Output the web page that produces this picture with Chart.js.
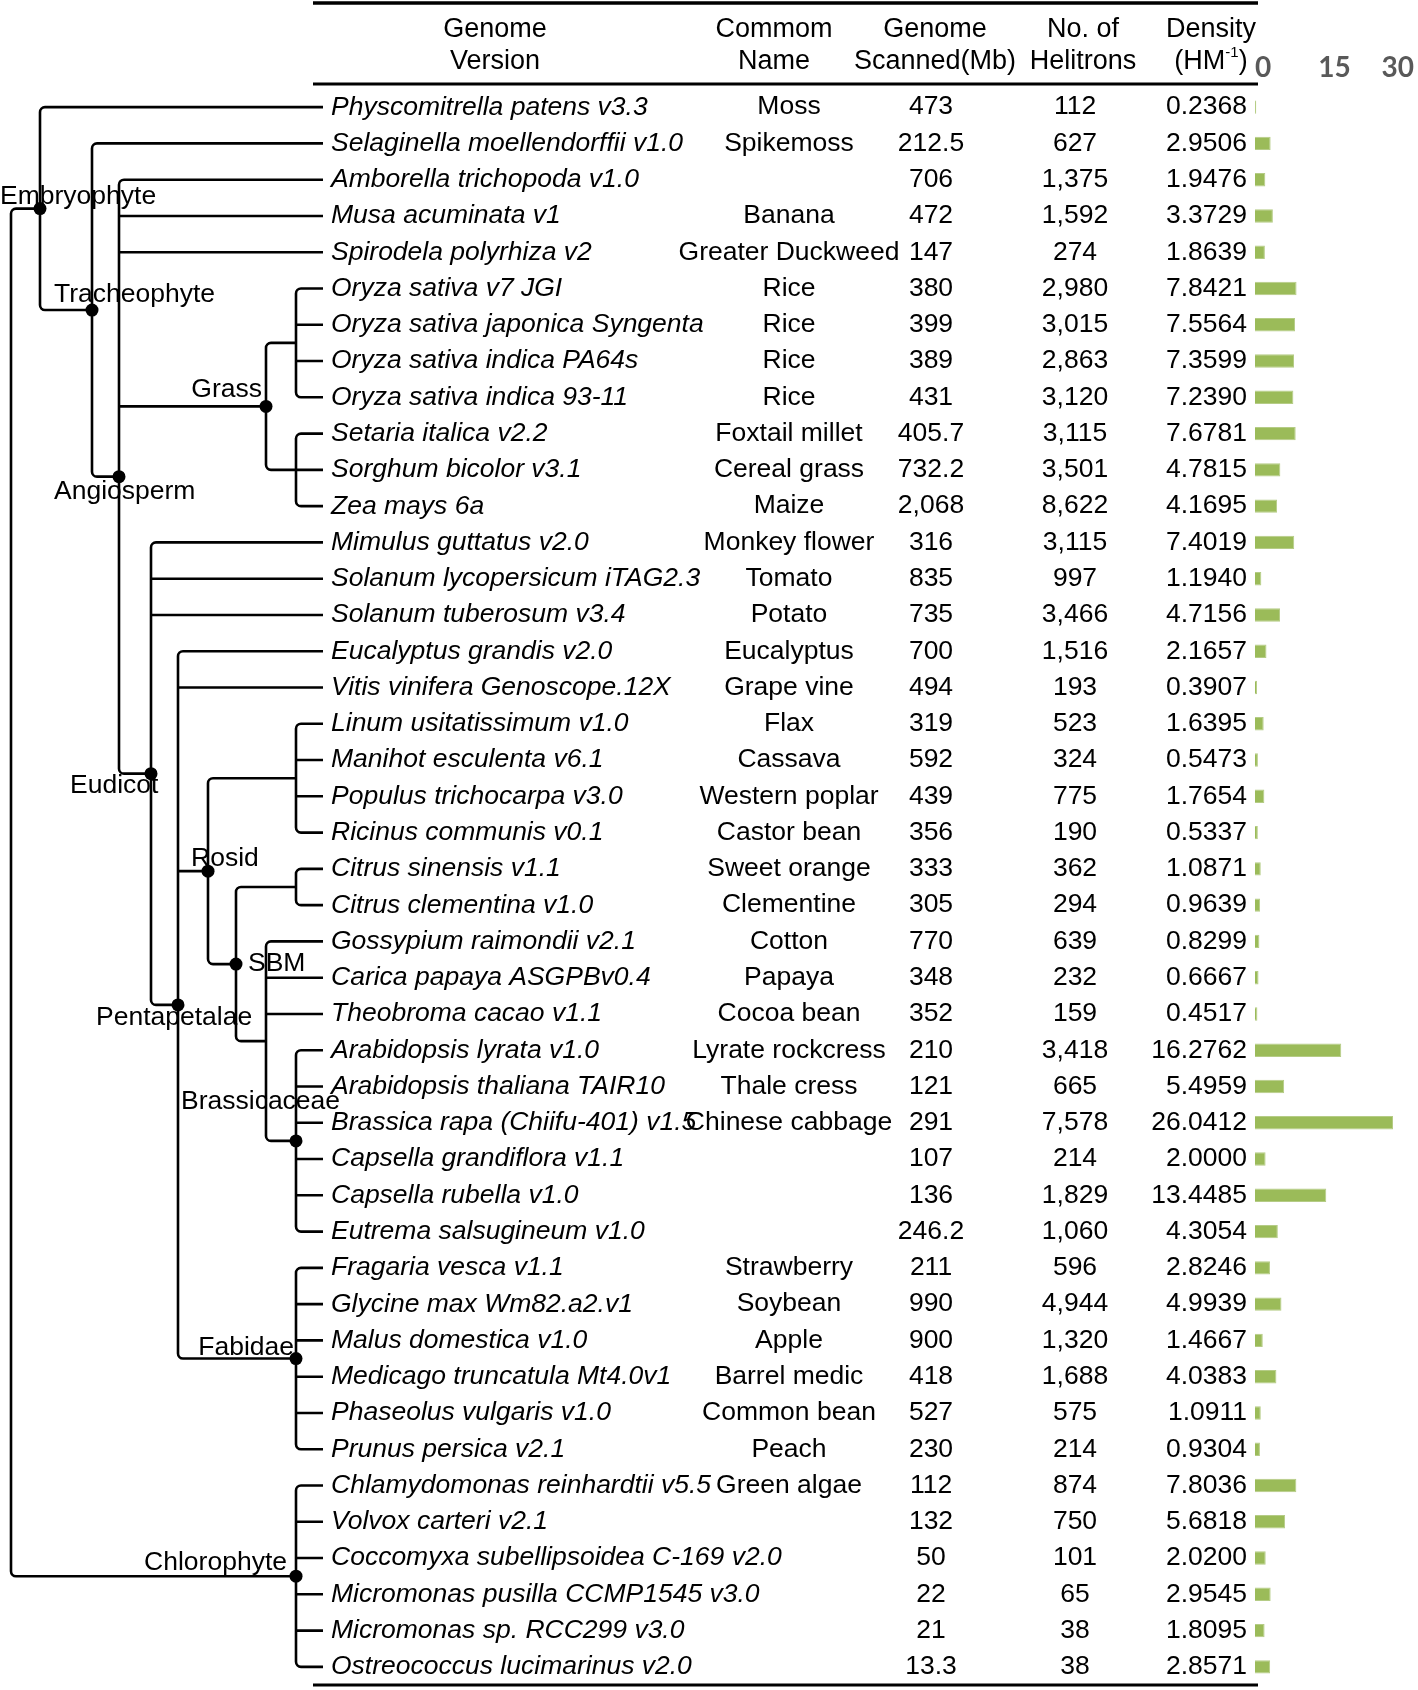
<!DOCTYPE html>
<html>
<head>
<meta charset="utf-8">
<script src="https://cdn.jsdelivr.net/npm/chart.js@4.4.1/dist/chart.umd.min.js"></script>
<style>
  html, body { margin: 0; padding: 0; background: #fff; }
  #wrap { width: 1418px; height: 1690px; }
</style>
</head>
<body>
<div id="wrap"><canvas id="helitronChart" width="1418" height="1690"></canvas></div>
<script>
// ===== Helitron density per genome =====

var genomes = [
    'Physcomitrella patens v3.3', 'Selaginella moellendorffii v1.0', 'Amborella trichopoda v1.0',
    'Musa acuminata v1', 'Spirodela polyrhiza v2', 'Oryza sativa v7 JGI',
    'Oryza sativa japonica Syngenta', 'Oryza sativa indica PA64s', 'Oryza sativa indica 93-11',
    'Setaria italica v2.2', 'Sorghum bicolor v3.1', 'Zea mays 6a',
    'Mimulus guttatus v2.0', 'Solanum lycopersicum iTAG2.3', 'Solanum tuberosum v3.4',
    'Eucalyptus grandis v2.0', 'Vitis vinifera Genoscope.12X', 'Linum usitatissimum v1.0',
    'Manihot esculenta v6.1', 'Populus trichocarpa v3.0', 'Ricinus communis v0.1',
    'Citrus sinensis v1.1', 'Citrus clementina v1.0', 'Gossypium raimondii v2.1',
    'Carica papaya ASGPBv0.4', 'Theobroma cacao v1.1', 'Arabidopsis lyrata v1.0',
    'Arabidopsis thaliana TAIR10', 'Brassica rapa (Chiifu-401) v1.5', 'Capsella grandiflora v1.1',
    'Capsella rubella v1.0', 'Eutrema salsugineum v1.0', 'Fragaria vesca v1.1',
    'Glycine max Wm82.a2.v1', 'Malus domestica v1.0', 'Medicago truncatula Mt4.0v1',
    'Phaseolus vulgaris v1.0', 'Prunus persica v2.1', 'Chlamydomonas reinhardtii v5.5',
    'Volvox carteri v2.1', 'Coccomyxa subellipsoidea C-169 v2.0', 'Micromonas pusilla CCMP1545 v3.0',
    'Micromonas sp. RCC299 v3.0', 'Ostreococcus lucimarinus v2.0'
];

var commonNames = [
    'Moss', 'Spikemoss', '', 'Banana', 'Greater Duckweed', 'Rice',
    'Rice', 'Rice', 'Rice', 'Foxtail millet', 'Cereal grass', 'Maize',
    'Monkey flower', 'Tomato', 'Potato', 'Eucalyptus', 'Grape vine', 'Flax',
    'Cassava', 'Western poplar', 'Castor bean', 'Sweet orange', 'Clementine', 'Cotton',
    'Papaya', 'Cocoa bean', 'Lyrate rockcress', 'Thale cress', 'Chinese cabbage', '',
    '', '', 'Strawberry', 'Soybean', 'Apple', 'Barrel medic',
    'Common bean', 'Peach', 'Green algae', '', '', '',
    '', ''
];

var scannedMb = [
    '473', '212.5', '706', '472', '147', '380', '399', '389', '431', '405.7', '732.2', '2,068',
    '316', '835', '735', '700', '494', '319', '592', '439', '356', '333', '305', '770',
    '348', '352', '210', '121', '291', '107', '136', '246.2', '211', '990', '900', '418',
    '527', '230', '112', '132', '50', '22', '21', '13.3'
];

var helitronCounts = [
    '112', '627', '1,375', '1,592', '274', '2,980', '3,015', '2,863', '3,120', '3,115', '3,501', '8,622',
    '3,115', '997', '3,466', '1,516', '193', '523', '324', '775', '190', '362', '294', '639',
    '232', '159', '3,418', '665', '7,578', '214', '1,829', '1,060', '596', '4,944', '1,320', '1,688',
    '575', '214', '874', '750', '101', '65', '38', '38'
];

var densities = [
    0.2368, 2.9506, 1.9476, 3.3729, 1.8639, 7.8421, 7.5564, 7.3599, 7.2390, 7.6781, 4.7815, 4.1695,
    7.4019, 1.1940, 4.7156, 2.1657, 0.3907, 1.6395, 0.5473, 1.7654, 0.5337, 1.0871, 0.9639, 0.8299,
    0.6667, 0.4517, 16.2762, 5.4959, 26.0412, 2.0000, 13.4485, 4.3054, 2.8246, 4.9939, 1.4667, 4.0383,
    1.0911, 0.9304, 7.8036, 5.6818, 2.0200, 2.9545, 1.8095, 2.8571
];

var densityTicks = [0, 15, 30];

var headerLines = [
    ['Genome', 'Version'],
    ['Commom', 'Name'],
    ['Genome', 'Scanned(Mb)'],
    ['No. of', 'Helitrons'],
    ['Density', '(HM-1)']
];

// Phylogeny: numbers are row indices of the genomes above
var tree = { x: 11, children: [
    { name: 'Embryophyte', x: 40, dot: true, children: [
        0,
        { name: 'Tracheophyte', x: 92, dot: true, children: [
            1,
            { name: 'Angiosperm', x: 119, dot: true, children: [
                2, 3, 4,
                { name: 'Grass', x: 266, dot: true, children: [
                    { x: 296, children: [5, 6, 7, 8] },
                    { x: 296, children: [9, 10, 11] }
                ] },
                { name: 'Eudicot', x: 151, dot: true, children: [
                    12, 13, 14,
                    { name: 'Pentapetalae', x: 178, dot: true, children: [
                        15, 16,
                        { name: 'Rosid', x: 208, dot: true, children: [
                            { x: 296, children: [17, 18, 19, 20] },
                            { name: 'SBM', x: 236, dot: true, children: [
                                { x: 296, children: [21, 22] },
                                { x: 266, children: [23, 24, 25,
                                    { name: 'Brassicaceae', x: 296, dot: true, children: [26, 27, 28, 29, 30, 31] }
                                ] }
                            ] }
                        ] },
                        { name: 'Fabidae', x: 296, dot: true, children: [32, 33, 34, 35, 36, 37] }
                    ] }
                ] }
            ] }
        ] }
    ] },
    { name: 'Chlorophyte', x: 296, dot: true, children: [38, 39, 40, 41, 42, 43] }
] };

// where each clade name sits, relative to its node
var cladeLabels = {
    'Embryophyte':  { x: 0,   dy: -12, align: 'left' },
    'Tracheophyte': { x: 54,  dy: -15, align: 'left' },
    'Grass':        { x: 262, dy: -17, align: 'right' },
    'Angiosperm':   { x: 54,  dy: 15,  align: 'left' },
    'Eudicot':      { x: 70,  dy: 12,  align: 'left' },
    'Rosid':        { x: 191, dy: -12, align: 'left' },
    'SBM':          { x: 248, dy: 0,   align: 'left' },
    'Pentapetalae': { x: 96,  dy: 13,  align: 'left' },
    'Brassicaceae': { x: 181, dy: -39, align: 'left' },
    'Fabidae':      { x: 294, dy: -11, align: 'right' },
    'Chlorophyte':  { x: 287, dy: -13, align: 'right' }
};

var FONT = "'Liberation Sans', Arial, Helvetica, sans-serif";
var BODY = '26.5px ' + FONT;
var LEAF_X = 323;

(function() {
    'use strict';

    function layoutRows(n) {
        if (typeof n === 'number') return n;
        var rows = n.children.map(layoutRows);
        n._row = (rows[0] + rows[rows.length - 1]) / 2;
        return n._row;
    }

    function rowOf(n) { return typeof n === 'number' ? n : n._row; }
    function xOf(n) { return typeof n === 'number' ? LEAF_X : n.x; }

    function drawBranches(ctx, n, rowY) {
        var kids = n.children;
        var first = kids[0], last = kids[kids.length - 1];
        var y1 = rowY(rowOf(first)), y2 = rowY(rowOf(last));
        ctx.beginPath();
        ctx.moveTo(xOf(first), y1);
        ctx.arcTo(n.x, y1, n.x, y2, 5);
        ctx.arcTo(n.x, y2, xOf(last), y2, 5);
        ctx.lineTo(xOf(last), y2);
        for (var i = 1; i < kids.length - 1; i++) {
            var y = rowY(rowOf(kids[i]));
            ctx.moveTo(n.x, y);
            ctx.lineTo(xOf(kids[i]), y);
        }
        ctx.stroke();
        kids.forEach(function(k) {
            if (typeof k !== 'number') drawBranches(ctx, k, rowY);
        });
    }

    function drawDots(ctx, n, rowY) {
        if (typeof n === 'number') return;
        if (n.dot) {
            ctx.beginPath();
            ctx.arc(n.x, rowY(n._row), 6.5, 0, Math.PI * 2);
            ctx.fill();
        }
        if (n.name && cladeLabels[n.name]) {
            var lb = cladeLabels[n.name];
            ctx.textAlign = lb.align;
            ctx.fillText(n.name, lb.x, rowY(n._row) + lb.dy);
        }
        n.children.forEach(function(k) { drawDots(ctx, k, rowY); });
    }

    var tablePlugin = {
        id: 'treeTable',
        afterDraw: function(chart) {
            var ctx = chart.ctx;
            var yScale = chart.scales.y;
            var y0 = yScale.getPixelForValue(0);
            var step = yScale.getPixelForValue(1) - y0;
            var rowY = function(r) { return y0 + r * step; };

            ctx.save();
            ctx.fillStyle = '#000';
            ctx.strokeStyle = '#000';

            // table rules
            ctx.lineWidth = 3.5;
            ctx.beginPath();
            ctx.moveTo(313, 3); ctx.lineTo(1258, 3);
            ctx.stroke();
            ctx.lineWidth = 3;
            ctx.beginPath();
            ctx.moveTo(313, 84); ctx.lineTo(1258, 84);
            ctx.moveTo(313, 1685); ctx.lineTo(1258, 1685);
            ctx.stroke();

            // header
            var headX = [495, 774, 935, 1083, 1211];
            var HEAD = '27px ' + FONT;
            ctx.font = HEAD;
            ctx.textBaseline = 'middle';
            ctx.textAlign = 'center';
            headerLines.forEach(function(lines, i) {
                ctx.fillText(lines[0], headX[i], 30);
                if (lines[1].indexOf('-1') < 0) {
                    ctx.fillText(lines[1], headX[i], 62);
                } else {
                    // unit with superscript
                    var parts = lines[1].split('-1');
                    ctx.font = HEAD;
                    var wa = ctx.measureText(parts[0]).width;
                    var wc = ctx.measureText(parts[1]).width;
                    ctx.font = '15px ' + FONT;
                    var wb = ctx.measureText('-1').width;
                    var sx = headX[i] - (wa + wb + wc) / 2;
                    ctx.textAlign = 'left';
                    ctx.font = HEAD;
                    ctx.fillText(parts[0], sx, 62);
                    ctx.font = '15px ' + FONT;
                    ctx.fillText('-1', sx + wa, 53);
                    ctx.font = HEAD;
                    ctx.fillText(parts[1], sx + wa + wb, 62);
                    ctx.textAlign = 'center';
                }
            });

            // rows
            genomes.forEach(function(g, i) {
                var y = rowY(i);
                ctx.font = 'italic ' + BODY;
                ctx.textAlign = 'left';
                ctx.fillText(g, 331, y);
                ctx.font = BODY;
                ctx.textAlign = 'center';
                if (commonNames[i]) ctx.fillText(commonNames[i], 789, y);
                ctx.fillText(scannedMb[i], 931, y);
                ctx.fillText(helitronCounts[i], 1075, y);
                ctx.textAlign = 'right';
                ctx.fillText(densities[i].toFixed(4), 1247, y);
            });

            // tree
            layoutRows(tree);
            ctx.lineWidth = 2.6;
            ctx.lineJoin = 'round';
            ctx.lineCap = 'butt';
            drawBranches(ctx, tree, rowY);
            ctx.font = BODY;
            ctx.textBaseline = 'middle';
            drawDots(ctx, tree, rowY);

            ctx.restore();
        }
    };

    var canvas = document.getElementById('helitronChart');
    new Chart(canvas.getContext('2d'), {
        type: 'bar',
        data: {
            labels: genomes,
            datasets: [{
                data: densities,
                backgroundColor: '#9BBB59',
                borderColor: '#B5CC86',
                borderWidth: 1,
                barPercentage: 0.37,
                categoryPercentage: 1
            }]
        },
        options: {
            indexAxis: 'y',
            responsive: false,
            animation: false,
            devicePixelRatio: 1,
            layout: { padding: { left: 1255, right: 0, top: 54, bottom: 5 } },
            plugins: {
                legend: { display: false },
                tooltip: { enabled: false }
            },
            scales: {
                x: {
                    position: 'top',
                    min: densityTicks[0],
                    max: densityTicks[densityTicks.length - 1],
                    grid: { display: false, drawTicks: false },
                    border: { display: false },
                    afterBuildTicks: function(scale) {
                        scale.ticks = densityTicks.map(function(v) { return { value: v }; });
                    },
                    afterFit: function(scale) { scale.height = 35; },
                    ticks: {
                        align: 'inner',
                        padding: 4,
                        color: '#595959',
                        font: { family: "Lato, 'Open Sans', sans-serif", size: 28, weight: 'bold' }
                    }
                },
                y: {
                    display: false,
                    grid: { display: false }
                }
            }
        },
        plugins: [tablePlugin]
    });
})();
</script>
</body>
</html>
